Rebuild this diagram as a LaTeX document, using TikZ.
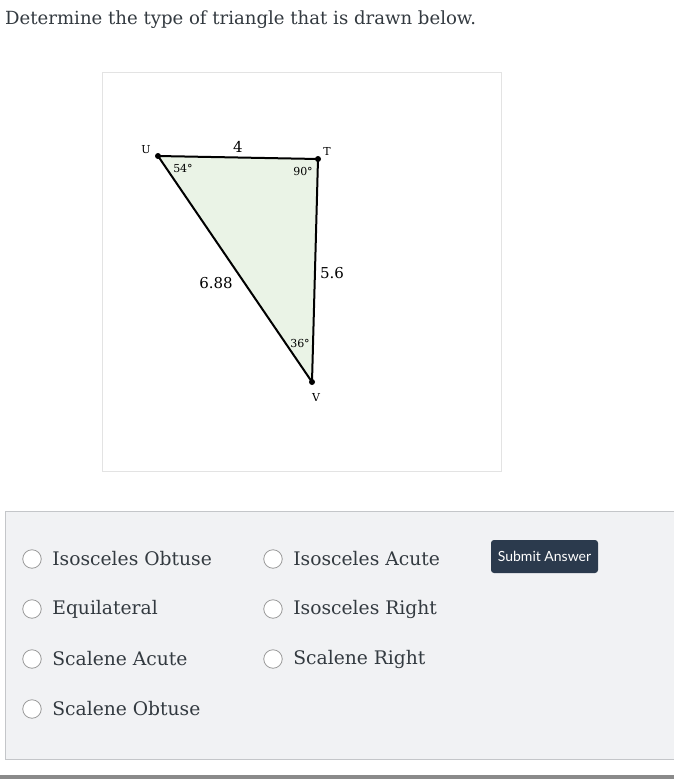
\documentclass[tikz,border=0pt]{standalone}
\usepackage{fontspec}
\setmainfont{DejaVu Serif}
\setsansfont{Lato}
\usetikzlibrary{positioning}

\definecolor{txtgray}{HTML}{333A40}
\definecolor{panelbg}{HTML}{F1F2F4}
\definecolor{panelline}{HTML}{C4C6C9}
\definecolor{boxline}{HTML}{E3E3E3}
\definecolor{trifill}{HTML}{EAF3E6}
\definecolor{btnblue}{HTML}{2B3A4D}
\definecolor{barcol}{HTML}{8A8A8A}

\tikzset{
  radio/.style={circle, draw=gray!80, fill=white, line width=0.8pt, minimum size=18.5pt, inner sep=0pt},
  choice/.style={anchor=west, inner sep=0pt, text=txtgray, font=\fontsize{18.7}{22}\selectfont},
  vlabel/.style={inner sep=1pt, font=\fontsize{11}{13}\selectfont},
  tlabel/.style={inner sep=1pt, font=\fontsize{15}{18}\selectfont},
  alabel/.style={inner sep=1pt, font=\fontsize{11}{13}\selectfont},
}

\begin{document}
\begin{tikzpicture}[x=1pt, y=-1pt]
    \useasboundingbox (0,0) rectangle (674,779);
    \fill[white] (0,0) rectangle (674,779);
    % question
    \node[anchor=base west, inner sep=0pt, text=txtgray, font=\fontsize{18.1}{22}\selectfont] (question) at (5,24) {Determine the type of triangle that is drawn below.};
    % figure frame
    \draw[boxline] (102,72) rectangle (501,471);
    \coordinate (U) at (158,156);
    \coordinate (T) at (318,159);
    \coordinate (V) at (312,382);
    \filldraw[fill=trifill, line width=2pt, line join=round] (U) -- (T) -- (V) -- cycle;
    \foreach \p in {U,T,V}
      \fill (\p) circle (3);
    \node[vlabel] (labU) at (146,150) {U};
    \node[vlabel] (labT) at (327,151) {T};
    \node[vlabel] (labV) at (316,397) {V};
    \node[tlabel] (sideUT) at (238,147) {4};
    \node[tlabel] (sideTV) at (332,273) {5.6};
    \node[tlabel] (sideUV) at (216,283) {6.88};
    \node[alabel] (angU) at (183,168) {54°};
    \node[alabel] (angT) at (303,171) {90°};
    \node[alabel] (angV) at (300,343) {36°};
    % answer panel
    \fill[panelbg] (5,511) rectangle (690,759);
    \draw[panelline] (690,511) -- (5,511) -- (5,759) -- (690,759);
    \fill[barcol] (0,775) rectangle (674,779);
    \foreach \y/\t [count=\i] in {559/Isosceles Obtuse, 609/Equilateral, 659/Scalene Acute, 709/Scalene Obtuse} {
      \node[radio] (rl\i) at (32,\y) {};
      \node[choice, right=10.5pt of rl\i] (cl\i) {\t};
    }
    \foreach \y/\t [count=\i] in {559/Isosceles Acute, 609/Isosceles Right, 659/Scalene Right} {
      \node[radio] (rr\i) at (273,\y) {};
      \node[choice, right=10.5pt of rr\i] (cr\i) {\t};
    }
    \node[fill=btnblue, rounded corners=3pt, minimum width=107pt, minimum height=33pt, inner sep=0pt, text=white, font=\sffamily\fontsize{14}{16}\selectfont] (submit) at (544.5,556.5) {Submit Answer};
\end{tikzpicture}
\end{document}
